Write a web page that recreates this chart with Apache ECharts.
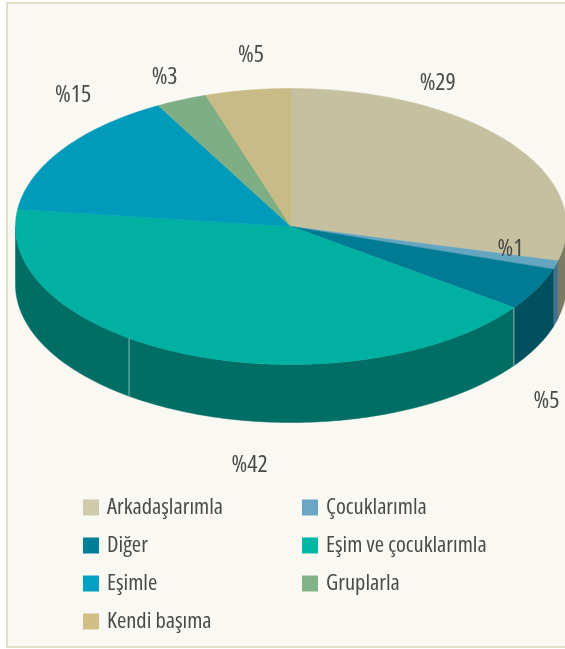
<!DOCTYPE html>
<html><head><meta charset="utf-8">
<style>html,body{margin:0;padding:0;background:#fff}#c{width:565px;height:649px}</style>
<script src="https://cdn.jsdelivr.net/npm/echarts@6/dist/echarts.min.js"></script>
</head><body><div id="c"></div>
<script>
// Slice names in drawing order (clockwise from 12 o'clock)
const categories = ['Arkadaşlarımla','Çocuklarımla','Diğer','Eşim ve çocuklarımla','Eşimle','Gruplarla','Kendi başıma'];
// Slice values (percent)
const sliceShares = [29, 1, 5, 42, 15, 3, 5];

const topColors  = ['#c5c1a0','#66a5c0','#007b93','#00b1a2','#009bbb','#7fae85','#c8bb85'];
const wallColors = ['#7b7a62','#41708a','#00505f','#006e64','#006e64','#006e64','#006e64'];
const legendColors = ['#cfcaa9','#6aa7c4','#007f98','#00b7a6','#00a1c2','#82b388','#d0c085'];
const labelNudges = [[-71,-59],[-45,-16],[10,112],[60,110],[10,-54],[-17,-23],[3,-35]];
const FONT = '"Open Sans","Noto Sans",sans-serif';
const textColor = '#4a4a4a';

const cx = 291, cy = 226.5, rx = 275.5, ry = 138, depth = 58;
const seamAngle = 216;

const toDeg = echarts.number.linearMap;
function pt(t, dy){ const a = t*Math.PI/180; return [cx + rx*Math.sin(a), cy - ry*Math.cos(a) + (dy||0)]; }
function arc(t0, t1, dy){
  const n = Math.max(2, Math.ceil(Math.abs(t1-t0)));
  const out = [];
  for (let i=0;i<=n;i++) out.push(pt(t0 + (t1-t0)*i/n, dy));
  return out;
}
let cum = 0;
const starts = sliceShares.map(v => { const s = cum; cum += v; return s; });
const total = cum;

const series = categories.map((name, i) => ({
  type: 'custom', name, coordinateSystem: 'none', silent: true,
  itemStyle: { color: legendColors[i] },
  data: [[starts[i], sliceShares[i]]],
  renderItem(params, api){
    const t0 = toDeg(api.value(0), [0,total], [0,360]);
    const t1 = toDeg(api.value(0)+api.value(1), [0,total], [0,360]);
    const kids = [];
    const w0 = Math.max(t0, 90), w1 = Math.min(t1, 270);
    if (w1 > w0){
      kids.push({ type:'polygon', shape:{points: arc(w0,w1,0).concat(arc(w1,w0,depth))},
        style:{fill:wallColors[i], stroke:wallColors[i], lineWidth:0.5} });
    }
    kids.push({ type:'polygon', shape:{points:[[cx,cy]].concat(arc(t0,t1,0))},
      style:{fill:topColors[i], stroke:topColors[i], lineWidth:0.5} });
    if (i === 3){
      const a = pt(t0,0), b = pt(t0,depth);
      kids.push({type:'line',shape:{x1:a[0],y1:a[1],x2:b[0],y2:b[1]},style:{stroke:'#8fb0ad',lineWidth:1}});
      const c = pt(seamAngle,0), d = pt(seamAngle,depth);
      kids.push({type:'line',shape:{x1:c[0],y1:c[1],x2:d[0],y2:d[1]},style:{stroke:'#8fb8b2',lineWidth:1}});
    }
    const m = pt((t0+t1)/2,0), nudge = labelNudges[i];
    kids.push({ type:'text', z2:10, style:{ x:m[0]+nudge[0], y:m[1]+nudge[1], text:'%'+api.value(1),
      fill:textColor, font:'condensed 24px '+FONT, textAlign:'center', textVerticalAlign:'middle' } });
    return { type:'group', children:kids };
  }
}));

const legendBase = { orient:'vertical', itemWidth:16, itemHeight:16, itemGap:15, top:496, selectedMode:false,
  icon:'rect', padding:0,
  textStyle:{ color:textColor, fontStyle:'condensed', fontFamily:FONT, fontSize:22.5, padding:[0,0,0,3] } };

const chart = echarts.init(document.getElementById('c'), null, {renderer:'canvas'});
chart.setOption({
  animation:false,
  backgroundColor:'#fff',
  graphic:[{ type:'rect', z:-1, silent:true, shape:{x:7,y:3,width:570,height:644},
    style:{fill:'#f9f8f3',stroke:'#e0dfc8',lineWidth:2} }],
  legend:[
    Object.assign({}, legendBase, { left:83, data:[categories[0],categories[2],categories[4],categories[6]] }),
    Object.assign({}, legendBase, { left:302, data:[categories[1],categories[3],categories[5]] })
  ],
  series
});
</script></body></html>
